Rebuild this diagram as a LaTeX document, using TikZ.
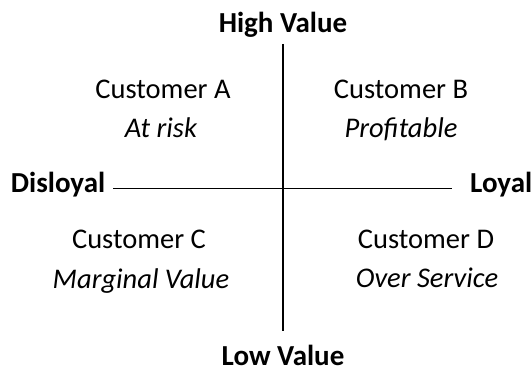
\documentclass[tikz,border=0pt]{standalone}
\usepackage{fontspec}
\setmainfont{Carlito}
\begin{document}
\begin{tikzpicture}[x=1pt,y=1pt,
  axislabel/.style={font=\fontsize{29}{34}\selectfont\bfseries, anchor=base, inner sep=0pt},
  customer/.style={font=\fontsize{28.5}{34}\selectfont, anchor=base, inner sep=0pt},
  verdict/.style={font=\fontsize{28.5}{34}\selectfont\itshape, anchor=base, inner sep=0pt},
  axis/.style={line width=1.4pt, black}]
\useasboundingbox (0,0) rectangle (532,371);

% axis end points
\coordinate (top) at (283,327);
\coordinate (bottom) at (283,40);
\coordinate (left) at (113,182.7);
\coordinate (right) at (451.7,182.7);

% axes
\draw[axis] (top) -- (bottom);
\draw[axis] (left) -- (right);

% axis labels
\node[axislabel] (high) at (283,338.3) {High Value};
\node[axislabel] (low) at (283,5) {Low Value};
\node[axislabel, anchor=base west] (disloyal) at (10.7,178) {Disloyal};
\node[axislabel, anchor=base west] (loyal) at (470,178) {Loyal};

% quadrants
\node[customer] (ca) at (163,272) {Customer A};
\node[verdict] (ra) at (161,233) {At risk};
\node[customer] (cb) at (401,272) {Customer B};
\node[verdict] (rb) at (401,233) {Profitable};
\node[customer] (cc) at (139,122) {Customer C};
\node[verdict] (rc) at (141,82.7) {Marginal Value};
\node[customer] (cd) at (426,122) {Customer D};
\node[verdict] (rd) at (427,83) {Over Service};
\end{tikzpicture}
\end{document}
